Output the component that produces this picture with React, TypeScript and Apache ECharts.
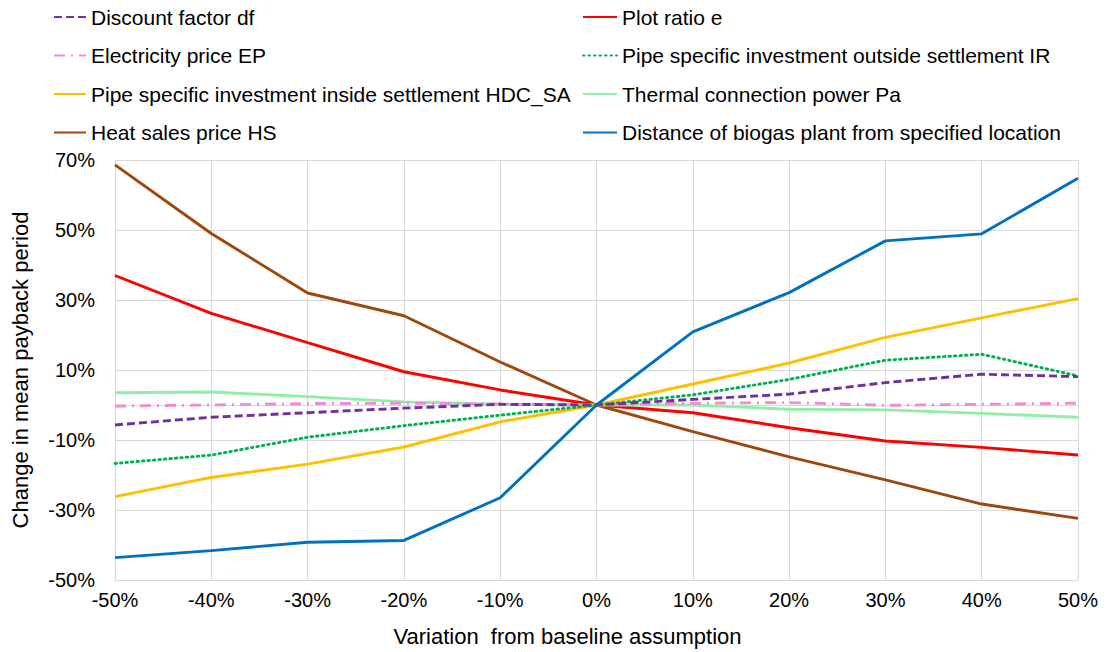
import React, { useEffect, useRef } from "react";
import * as echarts from "echarts";

const categories = ["-50%", "-40%", "-30%", "-20%", "-10%", "0%", "10%", "20%", "30%", "40%", "50%"];

const discountFactor = [-5.7, -3.5, -2.2, -0.9, 0.2, 0, 1.6, 3.1, 6.4, 8.8, 8.1];
const plotRatio = [37.0, 26.2, 17.8, 9.5, 4.3, 0, -2.2, -6.5, -10.3, -12.1, -14.3];
const electricityPrice = [-0.3, 0.0, 0.4, 0.5, 0.3, 0, 0.5, 0.7, -0.1, 0.2, 0.5];
const pipeOutside = [-16.7, -14.3, -9.2, -5.9, -2.9, 0, 2.9, 7.3, 12.8, 14.5, 8.3];
const pipeInside = [-26.2, -20.7, -16.9, -12.0, -4.8, 0, 6.0, 12.0, 19.3, 24.9, 30.4];
const thermalPower = [3.5, 3.7, 2.4, 0.9, 0.2, 0, 0.0, -1.2, -1.4, -2.4, -3.5];
const heatSales = [68.6, 49.0, 32.0, 25.5, 12.3, 0, -7.6, -14.8, -21.4, -28.3, -32.4];
const distance = [-43.6, -41.6, -39.2, -38.7, -26.5, 0, 20.9, 32.1, 46.9, 48.9, 64.8];

const leftNames = [
  "Discount factor df",
  "Electricity price EP",
  "Pipe specific investment inside settlement HDC_SA",
  "Heat sales price HS",
];
const rightNames = [
  "Plot ratio e",
  "Pipe specific investment outside settlement IR",
  "Thermal connection power Pa",
  "Distance of biogas plant from specified location",
];

const FONT = "'Liberation Sans', Arial, sans-serif";

export default function App() {
  const ref = useRef<HTMLDivElement>(null);
  useEffect(() => {
    if (!ref.current) return;
    const chart = echarts.init(ref.current, undefined, { renderer: "svg" });
    const mk = (name: string, data: number[], color: string, type: any, width = 2.9, cap: any = "butt") => ({
      name,
      type: "line",
      data,
      symbol: "none",
      lineStyle: { color, width, type, cap },
      itemStyle: { color },
    });
    const legendCommon = {
      orient: "vertical" as const,
      top: 1,
      itemHeight: 14,
      itemGap: 16.5,
      itemStyle: { opacity: 0 },
      textStyle: { fontSize: 21, fontFamily: FONT, color: "#000", lineHeight: 22 },
    };
    chart.setOption({
      animation: false,
      backgroundColor: "#fff",
      legend: [
        { ...legendCommon, left: 48, itemWidth: 32, data: leftNames },
        { ...legendCommon, left: 577, itemWidth: 34, data: rightNames },
      ],
      grid: { left: 115, right: 31, top: 160, bottom: 72 },
      xAxis: {
        type: "category",
        data: categories,
        boundaryGap: false,
        name: "Variation  from baseline assumption",
        nameLocation: "middle",
        nameGap: 45,
        nameTextStyle: { fontSize: 22, fontFamily: FONT, color: "#000", padding: [0, 58, 0, 0] },
        axisLine: { lineStyle: { color: "#d9d9d9", width: 1 } },
        axisTick: { show: false },
        axisLabel: { fontSize: 20, fontFamily: FONT, color: "#000", margin: 10 },
        splitLine: { show: true, lineStyle: { color: "#d9d9d9", width: 1 } },
      },
      yAxis: {
        type: "value",
        min: -50,
        max: 70,
        interval: 20,
        name: "Change in mean payback period",
        nameLocation: "middle",
        nameGap: 84,
        nameTextStyle: { fontSize: 22, fontFamily: FONT, color: "#000" },
        axisLine: { show: false },
        axisTick: { show: false },
        axisLabel: { fontSize: 20, fontFamily: FONT, color: "#000", margin: 20, formatter: (v: number) => v + "%" },
        splitLine: { show: true, lineStyle: { color: "#d9d9d9", width: 1 } },
      },
      series: [
        mk(leftNames[3], heatSales, "#9E480E", "solid"),
        mk(rightNames[0], plotRatio, "#FF0000", "solid"),
        mk(rightNames[2], thermalPower, "#8EF0A4", "solid"),
        mk(leftNames[1], electricityPrice, "#F08CD6", [11, 6, 2, 6]),
        mk(leftNames[2], pipeInside, "#FFC000", "solid"),
        mk(rightNames[1], pipeOutside, "#00B050", [1.5, 4], 2.9, "round"),
        mk(leftNames[0], discountFactor, "#7030A0", [8, 4]),
        mk(rightNames[3], distance, "#0070C0", "solid"),
      ],
    });
    return () => chart.dispose();
  }, []);
  return <div ref={ref} style={{ position: "absolute", left: 0, top: 0, width: 1109, height: 652 }} />;
}
